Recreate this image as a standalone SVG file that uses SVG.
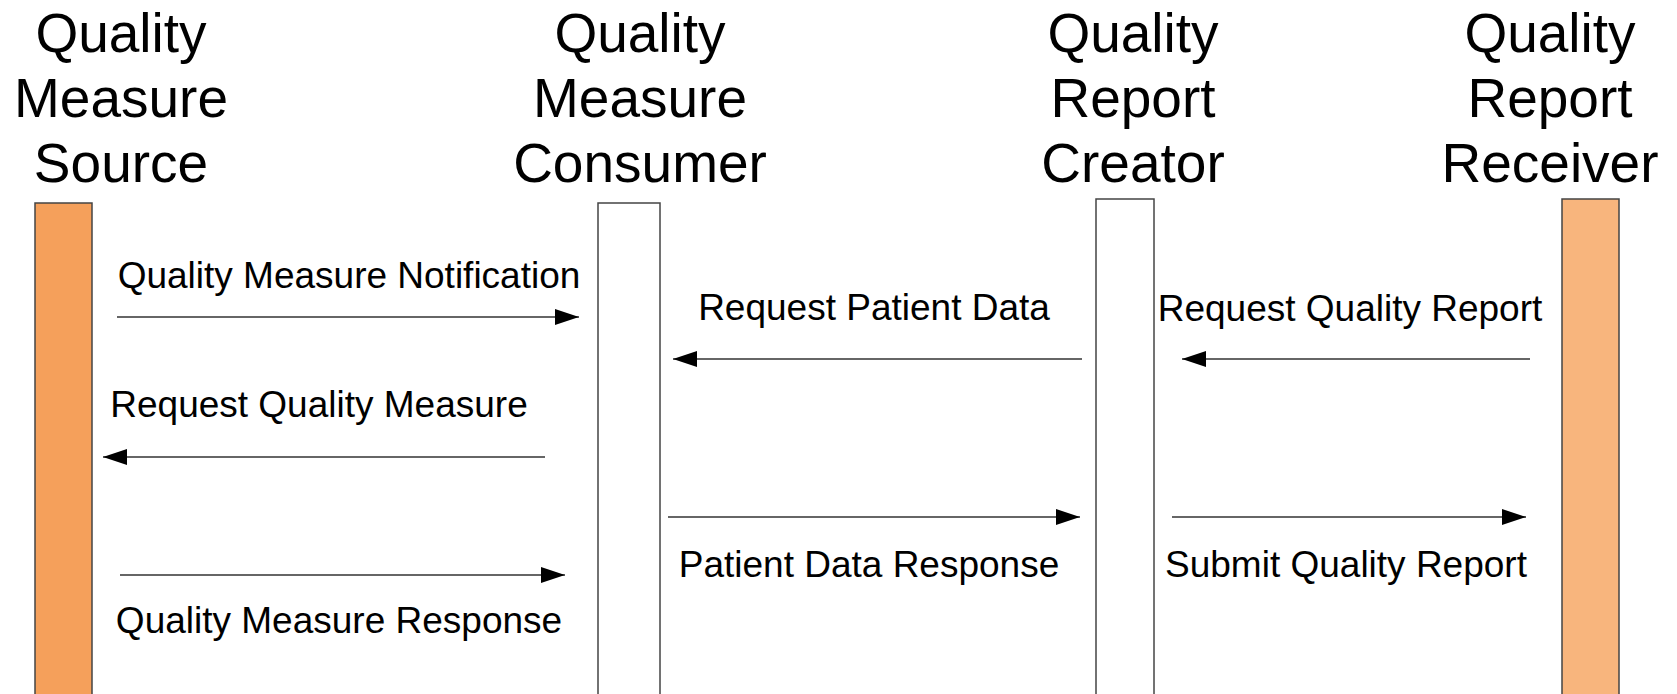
<svg xmlns="http://www.w3.org/2000/svg" width="1677" height="694" viewBox="0 0 1677 694">
<style>
.title{font-family:"Liberation Sans",Arial,sans-serif;font-size:55px;fill:#000;text-anchor:middle}
.msg{font-family:"Liberation Sans",Arial,sans-serif;font-size:37px;fill:#000;text-anchor:middle}
.bar{stroke:#444;stroke-width:1.5}
.conn{stroke:#333;stroke-width:1.6;fill:none;marker-end:url(#arrow)}
</style>
<defs>
<marker id="arrow" markerUnits="userSpaceOnUse" viewBox="0 0 24 16" refX="24" refY="8" markerWidth="24" markerHeight="16" orient="auto">
<path d="M0,0 L24,8 L0,16 z" fill="#000"/>
</marker>
</defs>
<rect width="1677" height="694" fill="#fff"/>
<g id="source">
<text class="title" x="121" y="52">Quality</text>
<text class="title" x="121" y="117">Measure</text>
<text class="title" x="121" y="182">Source</text>
<rect class="bar" x="35" y="203" width="57" height="500" fill="#F5A05B"/>
</g>
<g id="consumer">
<text class="title" x="640" y="52">Quality</text>
<text class="title" x="640" y="117">Measure</text>
<text class="title" x="640" y="182">Consumer</text>
<rect class="bar" x="598" y="203" width="62" height="500" fill="#fff"/>
</g>
<g id="creator">
<text class="title" x="1133" y="52">Quality</text>
<text class="title" x="1133" y="117">Report</text>
<text class="title" x="1133" y="182">Creator</text>
<rect class="bar" x="1096" y="199" width="58" height="504" fill="#fff"/>
</g>
<g id="receiver">
<text class="title" x="1550" y="52">Quality</text>
<text class="title" x="1550" y="117">Report</text>
<text class="title" x="1550" y="182">Receiver</text>
<rect class="bar" x="1562" y="199" width="57" height="504" fill="#F8B57D"/>
</g>
<g id="connectors">
<line class="conn" x1="117" y1="317" x2="579" y2="317"/>
<line class="conn" x1="545" y1="457" x2="103" y2="457"/>
<line class="conn" x1="120" y1="575" x2="565" y2="575"/>
<line class="conn" x1="1082" y1="359" x2="673" y2="359"/>
<line class="conn" x1="668" y1="517" x2="1080" y2="517"/>
<line class="conn" x1="1530" y1="359" x2="1182" y2="359"/>
<line class="conn" x1="1172" y1="517" x2="1526" y2="517"/>
</g>
<g id="labels">
<text class="msg" x="349" y="288">Quality Measure Notification</text>
<text class="msg" x="319" y="417">Request Quality Measure</text>
<text class="msg" x="339" y="633">Quality Measure Response</text>
<text class="msg" x="874" y="320">Request Patient Data</text>
<text class="msg" x="869" y="577">Patient Data Response</text>
<text class="msg" x="1350" y="321">Request Quality Report</text>
<text class="msg" x="1346" y="577">Submit Quality Report</text>
</g>
</svg>
